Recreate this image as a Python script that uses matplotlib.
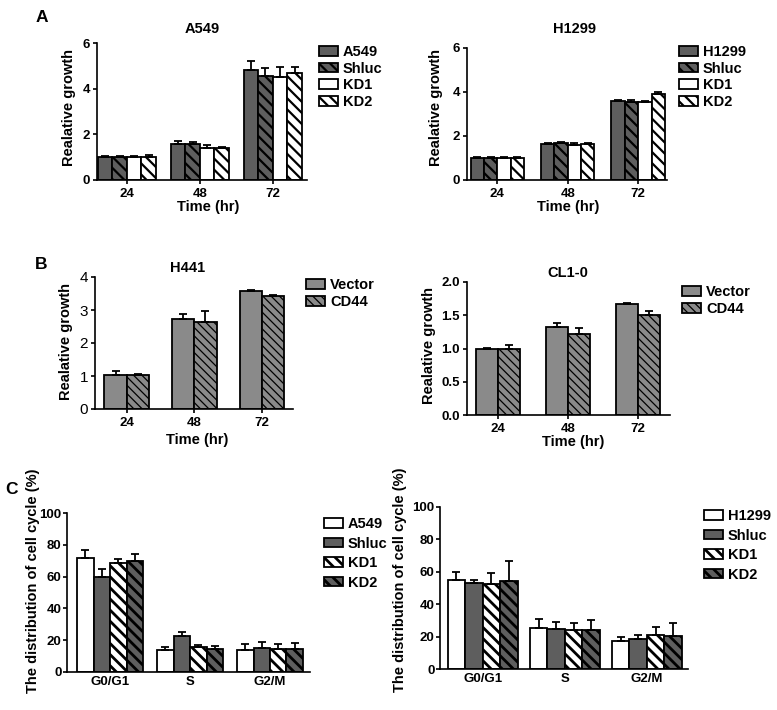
import matplotlib
matplotlib.use('Agg')
import matplotlib.pyplot as plt
from matplotlib.patches import Patch
from matplotlib.ticker import FormatStrFormatter

plt.rcParams['font.family'] = ['Liberation Sans', 'DejaVu Sans']
plt.rcParams['font.weight'] = 'bold'
plt.rcParams['hatch.linewidth'] = 1.6

W, H = 777, 710

# ---- data ----
time_labels = ['24', '48', '72']
phase_labels = ['G0/G1', 'S', 'G2/M']

a549_names = ['A549', 'Shluc', 'KD1', 'KD2']
a549_mean = [[1.00, 1.57, 4.80], [1.00, 1.57, 4.57], [1.00, 1.42, 4.50], [1.00, 1.38, 4.70]]
a549_err = [[0.05, 0.14, 0.40], [0.05, 0.08, 0.33], [0.05, 0.10, 0.46], [0.10, 0.08, 0.24]]

h1299_names = ['H1299', 'Shluc', 'KD1', 'KD2']
h1299_mean = [[1.00, 1.65, 3.57], [1.00, 1.66, 3.55], [1.00, 1.60, 3.56], [1.00, 1.65, 3.90]]
h1299_err = [[0.04, 0.05, 0.08], [0.04, 0.05, 0.07], [0.04, 0.06, 0.05], [0.03, 0.05, 0.08]]

b_names = ['Vector', 'CD44']
h441_mean = [[1.02, 2.74, 3.58], [1.02, 2.64, 3.43]]
h441_err = [[0.12, 0.13, 0.04], [0.05, 0.33, 0.03]]
cl10_mean = [[1.00, 1.325, 1.675], [1.00, 1.225, 1.51]]
cl10_err = [[0.01, 0.06, 0.015], [0.06, 0.08, 0.06]]

cc_a549_names = ['A549', 'Shluc', 'KD1', 'KD2']
cc_a549_mean = [[71.5, 14.0, 14.0], [60.0, 22.7, 15.0], [68.4, 15.8, 14.7], [70.0, 14.7, 14.7]]
cc_a549_err = [[5.0, 2.0, 3.8], [5.0, 2.5, 4.0], [2.5, 1.0, 2.7], [4.0, 1.5, 3.8]]

cc_h1299_names = ['H1299', 'Shluc', 'KD1', 'KD2']
cc_h1299_mean = [[55.0, 25.4, 17.0], [53.3, 25.0, 18.4], [52.5, 24.2, 21.1], [54.5, 24.2, 20.5]]
cc_h1299_err = [[5.0, 5.3, 2.5], [1.5, 4.0, 2.7], [7.0, 4.0, 4.7], [12.0, 6.0, 7.7]]

dark = '#5e5e5e'
mid = '#8a8a8a'
hA = '\\' * 3
hB = '\\' * 4
style_A = [(dark, ''), (dark, hA), ('white', ''), ('white', hA)]
style_B = [(mid, ''), (mid, hB)]
style_C = [('white', ''), (dark, ''), ('white', hA), (dark, hA)]

FS = 10.5   # label / title size
TFS = 9.5   # tick label size


def rect(l, t, r, b):
    return [l / W, 1 - b / H, (r - l) / W, (b - t) / H]


def ftext(x, y, s, **kw):
    fig.text(x / W, 1 - y / H, s, ha='center', va='center', **kw)


def panel(rc, names, means, errs, styles, width, xlim, ylim, yticks, xlabels,
          hlw=1.6, tick_len=3, yweight='bold', yfs=TFS, ypad=2):
    ax = fig.add_axes(rect(*rc))
    n = len(names)
    x = range(len(xlabels))
    for i in range(n):
        col, hat = styles[i]
        xs = [k + (i - (n - 1) / 2) * width for k in x]
        bars = ax.bar(xs, means[i], width, color=col, edgecolor='black',
                      linewidth=1.3, hatch=hat, zorder=2)
        for p in bars:
            if hasattr(p, 'set_hatch_linewidth'):
                p.set_hatch_linewidth(hlw)
        ax.errorbar(xs, means[i], yerr=[[0] * len(xs), errs[i]], fmt='none',
                    ecolor='black', elinewidth=1.3, capsize=3, capthick=1.3, zorder=3)
    ax.set_xlim(*xlim)
    ax.set_ylim(*ylim)
    ax.set_yticks(yticks)
    ax.set_xticks(list(x))
    ax.set_xticklabels(xlabels, fontsize=TFS, fontweight='bold')
    for lab in ax.get_yticklabels():
        lab.set_fontsize(yfs)
        lab.set_fontweight(yweight)
    for s in ['top', 'right']:
        ax.spines[s].set_visible(False)
    for s in ['left', 'bottom']:
        ax.spines[s].set_linewidth(1.2)
    ax.tick_params(axis='y', length=3, width=1.2, pad=ypad)
    ax.tick_params(axis='x', length=tick_len, width=1.2, pad=3)
    return ax


def legend(ax, names, styles, x, y, spacing, hlw=1.6):
    handles = []
    for (col, hat), nm in zip(styles, names):
        handles.append(Patch(facecolor=col, edgecolor='black', hatch=hat, linewidth=1.3, label=nm))
    lg = ax.legend(handles=handles, loc='upper left', bbox_to_anchor=(x / W, 1 - y / H),
                   bbox_transform=fig.transFigure, frameon=False, borderpad=0,
                   borderaxespad=0, handlelength=1.3, handleheight=0.65,
                   handletextpad=0.35, labelspacing=spacing,
                   prop={'size': FS, 'weight': 'bold'})
    for p in lg.get_patches():
        if hasattr(p, 'set_hatch_linewidth'):
            p.set_hatch_linewidth(hlw)


fig = plt.figure(figsize=(W / 100, H / 100), dpi=100)

# A
axA1 = panel((97, 43, 307, 180), a549_names, a549_mean, a549_err, style_A, 0.2,
             (-0.41, 2.47), (0, 6), [0, 2, 4, 6], time_labels)
legend(axA1, a549_names, style_A, 319, 45, 0.18)
axA2 = panel((467, 48, 667, 180), h1299_names, h1299_mean, h1299_err, style_A, 0.19,
             (-0.43, 2.41), (0, 6), [0, 2, 4, 6], time_labels)
legend(axA2, h1299_names, style_A, 679, 45, 0.18)

# B
axB1 = panel((95, 277, 293, 409), b_names, h441_mean, h441_err, style_B, 0.33,
             (-0.47, 2.46), (0, 4), [0, 1, 2, 3, 4], time_labels, hlw=0.9,
             yweight='normal', yfs=11)
legend(axB1, b_names, style_B, 306, 278, 0.2, hlw=0.9)
axB2 = panel((467, 282, 670, 415), b_names, cl10_mean, cl10_err, style_B, 0.31,
             (-0.44, 2.46), (0, 2), [0, 0.5, 1.0, 1.5, 2.0], time_labels, hlw=0.9)
axB2.yaxis.set_major_formatter(FormatStrFormatter('%.1f'))
legend(axB2, b_names, style_B, 682, 285, 0.2, hlw=0.9)

# C
axC1 = panel((67, 513, 310, 672), cc_a549_names, cc_a549_mean, cc_a549_err, style_C, 0.206,
             (-0.54, 2.5), (0, 100), [0, 20, 40, 60, 80, 100], phase_labels,
             hlw=2.0, tick_len=0, ypad=1)
legend(axC1, cc_a549_names, style_C, 324, 517, 0.38, hlw=2.0)
axC2 = panel((440, 507, 688, 669), cc_h1299_names, cc_h1299_mean, cc_h1299_err, style_C, 0.213,
             (-0.52, 2.5), (0, 100), [0, 20, 40, 60, 80, 100], phase_labels,
             hlw=2.0, tick_len=0, ypad=1)
legend(axC2, cc_h1299_names, style_C, 704, 509, 0.38, hlw=2.0)

# texts
ftext(202, 29, 'A549', fontsize=FS, fontweight='bold')
ftext(575, 29, 'H1299', fontsize=FS, fontweight='bold')
ftext(188, 268, 'H441', fontsize=FS, fontweight='bold')
ftext(568, 273, 'CL1-0', fontsize=FS, fontweight='bold')

ftext(208, 207, 'Time (hr)', fontsize=FS, fontweight='bold')
ftext(568, 207, 'Time (hr)', fontsize=FS, fontweight='bold')
ftext(197, 440, 'Time (hr)', fontsize=FS, fontweight='bold')
ftext(573, 442, 'Time (hr)', fontsize=FS, fontweight='bold')

ftext(69, 108, 'Realative growth', fontsize=FS, fontweight='bold', rotation=90)
ftext(436, 108, 'Realative growth', fontsize=FS, fontweight='bold', rotation=90)
ftext(66, 341, 'Realative growth', fontsize=FS, fontweight='bold', rotation=90)
ftext(429, 345, 'Realative growth', fontsize=FS, fontweight='bold', rotation=90)
ftext(33, 581, 'The distribution of cell cycle (%)', fontsize=FS, fontweight='bold', rotation=90)
ftext(400, 580, 'The distribution of cell cycle (%)', fontsize=FS, fontweight='bold', rotation=90)

ftext(42, 18, 'A', fontsize=12.5, fontweight='bold')
ftext(41, 265, 'B', fontsize=12.5, fontweight='bold')
ftext(11, 490, 'C', fontsize=12.5, fontweight='bold')

fig.savefig('out.png', dpi=100)
